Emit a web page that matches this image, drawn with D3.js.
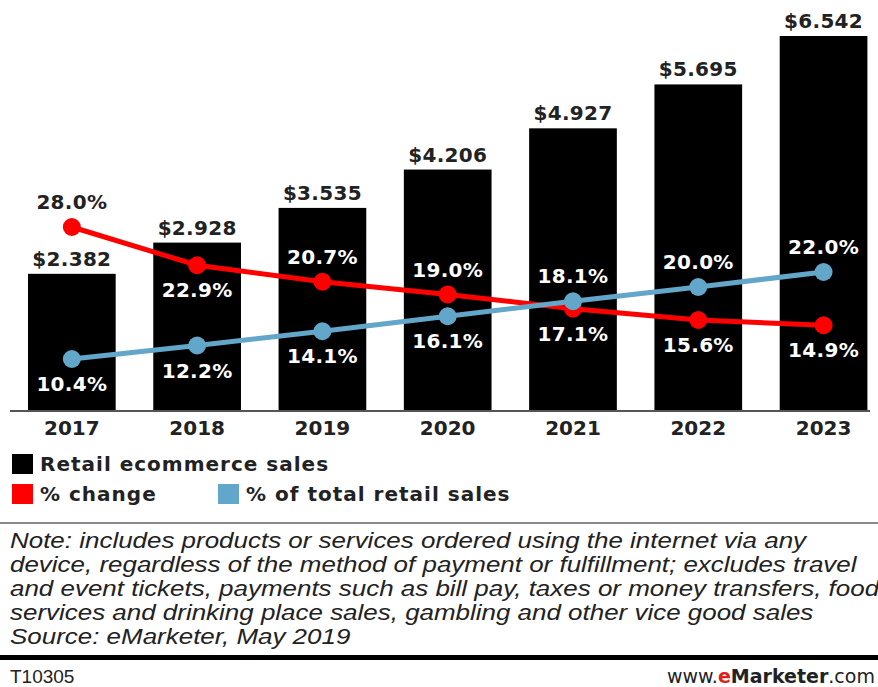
<!DOCTYPE html>
<meta charset="utf-8">
<script src="https://d3js.org/d3.v7.min.js"></script>
<style>
  body { margin: 0; background: #fff; }
</style>
<div id="my_dataviz"></div>
<script>

// data
var years = ["2017", "2018", "2019", "2020", "2021", "2022", "2023"];
var sales = [2.382, 2.928, 3.535, 4.206, 4.927, 5.695, 6.542];       // trillions
var pctChange = [28.0, 22.9, 20.7, 19.0, 17.1, 15.6, 14.9];
var pctTotal = [10.4, 12.2, 14.1, 16.1, 18.1, 20.0, 22.0];
// which side of the point each label goes (-1 above, 1 below)
var changeSide = [-1, 1, -1, -1, 1, 1, 1];
var totalSide = [1, 1, 1, 1, -1, -1, -1];
var noteLines = [
  "Note: includes products or services ordered using the internet via any",
  "device, regardless of the method of payment or fulfillment; excludes travel",
  "and event tickets, payments such as bill pay, taxes or money transfers, food",
  "services and drinking place sales, gambling and other vice good sales",
  "Source: eMarketer, May 2019"
];

var W = 878, H = 687;
var baseY = 410;
var redCol = "#ff0000", blueCol = "#62a6c9";

var svg = d3.select("#my_dataviz")
  .append("svg")
    .attr("width", W)
    .attr("height", H)
    .style("font-family", "'DejaVu Sans', sans-serif");

// scales
var x = d3.scaleBand()
  .domain(years)
  .range([-9.6, 905])
  .padding(0.3);

var y = d3.scaleLinear()
  .domain([0, 6.542])
  .range([baseY, 36]);

var yp = d3.scaleLinear()
  .domain([0, 22])
  .range([437, 272]);

var cx = function(i) { return x(years[i]) + x.bandwidth() / 2; };

// bars
svg.append("g")
  .selectAll("rect")
  .data(sales)
  .enter()
  .append("rect")
    .attr("x", function(d, i) { return x(years[i]); })
    .attr("y", function(d) { return y(d); })
    .attr("width", x.bandwidth())
    .attr("height", function(d) { return baseY - y(d); })
    .attr("fill", "#000");

// bar value labels
svg.append("g")
  .selectAll("text")
  .data(sales)
  .enter()
  .append("text")
    .attr("x", function(d, i) { return cx(i); })
    .attr("y", function(d) { return y(d) - 8; })
    .attr("text-anchor", "middle")
    .style("font-size", "20px")
    .style("font-weight", "bold")
    .style("letter-spacing", "0.3px")
    .attr("fill", "#222")
    .text(function(d) { return "$" + d.toFixed(3); });

// axis line + year labels
var xAxis = svg.append("g")
  .attr("transform", "translate(0," + baseY + ")")
  .call(d3.axisBottom(x).tickSize(0).tickPadding(11));
xAxis.select(".domain").remove();
xAxis.selectAll("text")
  .style("font-family", "'DejaVu Sans', sans-serif")
  .style("font-size", "20px")
  .style("font-weight", "bold")
  .attr("fill", "#222");
svg.append("line")
  .attr("x1", 10).attr("x2", 870)
  .attr("y1", baseY + 1).attr("y2", baseY + 1)
  .attr("stroke", "#555")
  .attr("stroke-width", 2);

// lines
function drawSeries(vals, col) {
  var line = d3.line()
    .x(function(d, i) { return cx(i); })
    .y(function(d) { return yp(d); });
  svg.append("path")
    .datum(vals)
    .attr("d", line)
    .attr("fill", "none")
    .attr("stroke", col)
    .attr("stroke-width", 5);
  svg.append("g")
    .selectAll("circle")
    .data(vals)
    .enter()
    .append("circle")
      .attr("cx", function(d, i) { return cx(i); })
      .attr("cy", function(d) { return yp(d); })
      .attr("r", 9)
      .attr("fill", col);
}
drawSeries(pctChange, redCol);
drawSeries(pctTotal, blueCol);

// point labels
function drawLabels(vals, sides) {
  svg.append("g")
    .selectAll("text")
    .data(vals)
    .enter()
    .append("text")
      .attr("x", function(d, i) { return cx(i); })
      .attr("y", function(d, i) { return yp(d) + sides[i] * 25; })
      .attr("dy", "0.36em")
      .attr("text-anchor", "middle")
      .style("font-size", "20px")
      .style("font-weight", "bold")
      .style("letter-spacing", "0.3px")
      .attr("fill", function(d, i) {
        var ty = yp(d) + sides[i] * 25;
        return ty < y(sales[i]) ? "#222" : "#fff";
      })
      .text(function(d) { return d.toFixed(1) + "%"; });
}
drawLabels(pctChange, changeSide);
drawLabels(pctTotal, totalSide);

// legend
var legend = [
  {label: "Retail ecommerce sales", col: "#000", x: 12, y: 464},
  {label: "% change", col: redCol, x: 12, y: 494},
  {label: "% of total retail sales", col: blueCol, x: 218, y: 494}
];
var lg = svg.append("g")
  .selectAll("g")
  .data(legend)
  .enter()
  .append("g")
    .attr("transform", function(d) { return "translate(" + d.x + "," + d.y + ")"; });
lg.append("rect")
  .attr("x", 0).attr("y", -10)
  .attr("width", 21).attr("height", 20)
  .attr("fill", function(d) { return d.col; });
lg.append("text")
  .attr("x", 28)
  .attr("dy", "0.36em")
  .style("font-size", "20px")
  .style("font-weight", "bold")
  .style("letter-spacing", "1px")
  .attr("fill", "#222")
  .text(function(d) { return d.label; });

// separator
svg.append("line")
  .attr("x1", 0).attr("x2", W)
  .attr("y1", 523).attr("y2", 523)
  .attr("stroke", "#888")
  .attr("stroke-width", 2);

// note (condensed look: stretch a regular italic)
svg.append("g")
  .attr("transform", "translate(10,0) scale(1.18,1)")
  .selectAll("text")
  .data(noteLines)
  .enter()
  .append("text")
    .attr("x", 0)
    .attr("y", function(d, i) { return 548 + i * 24; })
    .style("font-family", "'Liberation Sans', sans-serif")
    .style("font-style", "italic")
    .style("font-size", "22px")
    .attr("fill", "#222")
    .text(function(d) { return d; });

// footer
svg.append("rect")
  .attr("x", 0).attr("y", 655)
  .attr("width", W).attr("height", 5)
  .attr("fill", "#000");
svg.append("text")
  .attr("x", 10).attr("y", 683)
  .style("font-family", "'Liberation Sans', sans-serif")
  .style("font-size", "19px")
  .attr("fill", "#222")
  .text("T10305");
var brand = svg.append("text")
  .attr("x", 667).attr("y", 683)
  .style("font-size", "19px")
  .attr("fill", "#222");
brand.append("tspan").text("www.");
brand.append("tspan").attr("fill", "#e0201b").style("font-weight", "bold").text("e");
brand.append("tspan").style("font-weight", "bold").text("Marketer");
brand.append("tspan").text(".com");

</script>
